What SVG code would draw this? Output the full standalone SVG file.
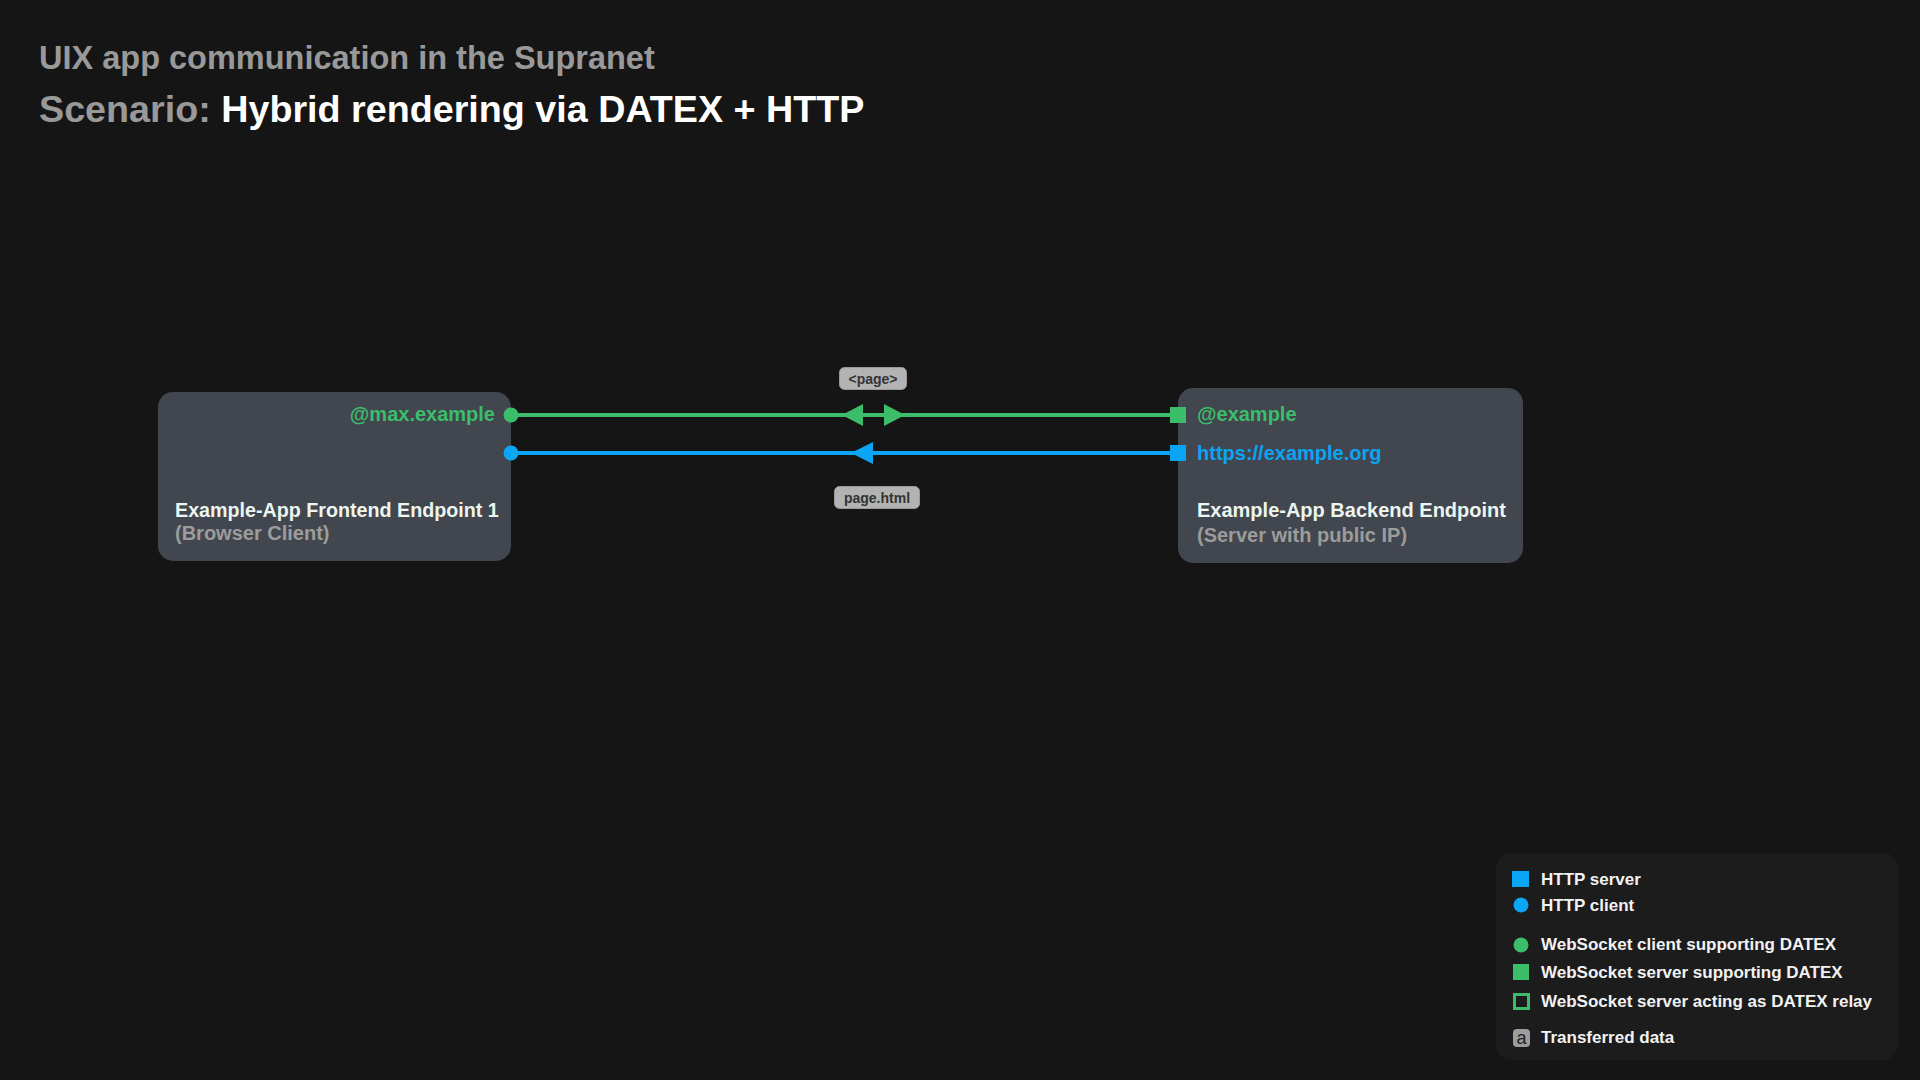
<svg xmlns="http://www.w3.org/2000/svg" width="1920" height="1080" viewBox="0 0 1920 1080">
<defs>
<style>
text{font-family:"Liberation Sans",Arial,Helvetica,sans-serif;font-weight:bold}
.t1{font-size:32.5px;fill:#999}
.t2{font-size:37.7px;fill:#999}
.wh{fill:#fff}
.node{fill:#41464f}
.ntitle{font-size:20px;fill:#ecf5ef}
.nsub{font-size:20px;fill:#9c9c9c}
.green{fill:#3cbd6a}
.blue{fill:#0aa5f5}
.port{font-size:20px}
.lbl{fill:#b3b3b3;stroke:#9a9a9a;stroke-width:1}
.lbltext{font-size:14px;fill:#333;text-anchor:middle}
.lg{font-size:17px;fill:#f2f2f2}
.gline{stroke:#3cbd6a;stroke-width:4;fill:none}
.bline{stroke:#0aa5f5;stroke-width:4;fill:none}
</style>
</defs>
<rect x="0" y="0" width="1920" height="1080" fill="#151515"/>

<g id="title">
<text class="t1" x="39" y="69">UIX app communication in the Supranet</text>
<text class="t2" x="39" y="122">Scenario: <tspan class="wh">Hybrid rendering via DATEX + HTTP</tspan></text>
</g>

<g id="frontend">
<rect class="node" x="158" y="392" width="353" height="169" rx="15"/>
<text class="port green" x="495" y="421" text-anchor="end">@max.example</text>
<text class="ntitle" x="175" y="517" style="font-size:19.7px">Example-App Frontend Endpoint 1</text>
<text class="nsub" x="175" y="540">(Browser Client)</text>
</g>

<g id="backend">
<rect class="node" x="1178" y="388" width="345" height="175" rx="15"/>
<text class="port green" x="1197" y="421">@example</text>
<text class="port blue" x="1197" y="460">https://example.org</text>
<text class="ntitle" x="1197" y="517">Example-App Backend Endpoint</text>
<text class="nsub" x="1197" y="542">(Server with public IP)</text>
</g>

<g id="connectors">
<line class="gline" x1="511" y1="415" x2="1178" y2="415"/>
<polygon class="green" points="842,415 863,404 863,426"/>
<polygon class="green" points="905,415 884,404 884,426"/>
<circle class="green" cx="511" cy="415" r="7.5"/>
<rect class="green" x="1170" y="407" width="16" height="16"/>

<line class="bline" x1="511" y1="453" x2="1178" y2="453"/>
<polygon class="blue" points="851,453 873,442 873,464"/>
<circle class="blue" cx="511" cy="453" r="7.5"/>
<rect class="blue" x="1170" y="445" width="16" height="16"/>

<g id="label-page">
<rect class="lbl" x="839.5" y="367.5" width="67" height="22" rx="5"/>
<text class="lbltext" x="873" y="383.5">&lt;page&gt;</text>
</g>
<g id="label-pagehtml">
<rect class="lbl" x="834.5" y="486.5" width="85" height="22" rx="5"/>
<text class="lbltext" x="877" y="502.5">page.html</text>
</g>
</g>

<g id="legend">
<rect x="1496" y="853" width="402" height="207" rx="15" fill="#1c1c1c"/>
<rect class="blue" x="1512" y="871" width="17" height="16"/>
<text class="lg" x="1541" y="885">HTTP server</text>
<circle class="blue" cx="1521" cy="905" r="7.5"/>
<text class="lg" x="1541" y="911">HTTP client</text>
<circle class="green" cx="1521" cy="945" r="7.5"/>
<text class="lg" x="1541" y="950">WebSocket client supporting DATEX</text>
<rect class="green" x="1513" y="964" width="16" height="16"/>
<text class="lg" x="1541" y="978">WebSocket server supporting DATEX</text>
<rect x="1514.5" y="994.5" width="14" height="14" fill="none" stroke="#3cbd6a" stroke-width="3"/>
<text class="lg" x="1541" y="1007">WebSocket server acting as DATEX relay</text>
<rect x="1513" y="1029" width="17" height="18" rx="4" fill="#9d9d9d"/>
<text x="1521.5" y="1044" font-size="18" fill="#222" text-anchor="middle" style="font-weight:normal">a</text>
<text class="lg" x="1541" y="1043">Transferred data</text>
</g>
</svg>
